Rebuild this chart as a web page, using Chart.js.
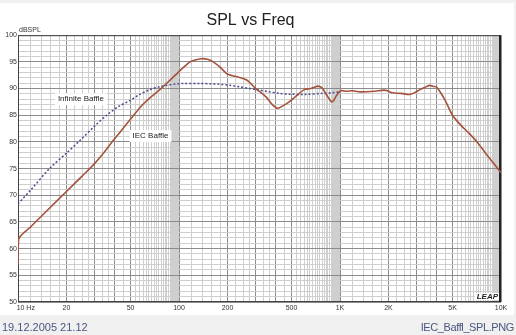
<!DOCTYPE html>
<html>
<head>
<meta charset="utf-8">
<script src="https://cdn.jsdelivr.net/npm/chart.js@4.4.1/dist/chart.umd.min.js"></script>
<style>
  html, body { margin: 0; padding: 0; }
  body { width: 516px; height: 335px; background: #f0f0f0; position: relative; overflow: hidden; }
  #panel { position: absolute; left: 0; top: 3px; width: 514px; height: 312px; background: #fff; }
  #chart { position: absolute; left: 0; top: 0; }
  .foot { position: absolute; top: 321px; line-height: 12px; font: 11px "Liberation Sans", Arial, sans-serif; color: #4a5680; }
</style>
</head>
<body>
<div id="panel"></div>
<canvas id="chart" width="516" height="335"></canvas>
<div class="foot" style="left:2px">19.12.2005 21.12</div>
<div class="foot" style="right:2px; letter-spacing:-0.4px">IEC_Baffl_SPL.PNG</div>
<script>
// IEC baffle response (solid)
const freqIEC = [10, 10.1, 12, 15, 20, 25, 29.4, 35, 39.1, 44, 52, 60, 68, 76, 84, 97, 107, 117, 128, 138,
  150, 163, 180, 198, 215, 229, 263, 300, 347, 380, 411, 445, 483, 540, 600, 660, 700, 727, 760, 780,
  810, 840, 870, 890, 915, 940, 975, 1010, 1100, 1200, 1300, 1450, 1650, 1880, 2000, 2110, 2400, 2700,
  2900, 3100, 3350, 3600, 3800, 3970, 4200, 4500, 5000, 5600, 6340, 7100, 8040, 9000, 10000];
const splIEC = [57.0, 61.8, 64.1, 67.0, 70.7, 73.6, 75.7, 78.4, 80.3, 82.2, 84.9, 87.1, 88.6, 89.8, 91.0, 92.8, 94.0, 95.0, 95.4, 95.6,
  95.5, 95.0, 94.0, 92.8, 92.4, 92.2, 91.6, 90.0, 88.45, 87.0, 86.3, 86.8, 87.5, 88.7, 89.8, 90.0, 90.3, 90.45, 90.3, 90.0,
  89.2, 88.45, 87.8, 87.5, 87.8, 88.45, 89.1, 89.6, 89.5, 89.6, 89.4, 89.4, 89.5, 89.7, 89.5, 89.2, 89.1, 88.9,
  89.2, 89.7, 90.2, 90.6, 90.4, 90.3, 89.3, 87.8, 85.0, 83.2, 81.6, 80.0, 77.85, 76.0, 74.2];

// Infinite baffle response (dotted)
const freqInf = [10, 12, 15.8, 20, 24.3, 30, 35.5, 42, 49.8, 57, 66, 75, 83.8, 95, 106, 135, 156, 180, 207,
  240, 275, 318, 360, 420, 483, 600, 780, 900, 1000];
const splInf = [68.4, 71.0, 75.1, 77.9, 80.3, 83.0, 85.0, 86.6, 87.8, 88.9, 89.8, 90.3, 90.6, 90.85, 90.95, 90.95, 90.9, 90.8, 90.6,
  90.3, 90.0, 89.7, 89.4, 89.1, 88.95, 88.9, 89.1, 89.2, 89.4];

// axis labels
const freqTicks = [10, 20, 50, 100, 200, 500, 1000, 2000, 5000, 10000];
const freqTickLabels = ['\u2007\u2007\u2007\u200710 Hz', '20', '50', '100', '200', '500', '1K', '2K', '5K', '10K'];
const splMin = 50, splMax = 100;

// minor grid subdivisions between 1-2, 2-3, ... 9-10 of each decade
const minorDivs = [5, 4, 3, 2, 3, 4, 4, 5, 8];

const gridTicks = [];
[10, 100, 1000].forEach(dec => {
    for (let m = 1; m < 10; m++) {
        gridTicks.push({ value: dec * m, dark: m <= 5 });
        const n = minorDivs[m - 1];
        for (let k = 1; k < n; k++) {
            gridTicks.push({ value: dec * (m + k / n), dark: false });
        }
    }
});
gridTicks.push({ value: 10000, dark: true });

const notes = [
    { text: 'Infinite Baffle', f: 24.6, db: 88.0 },
    { text: 'IEC Baffle', f: 66.5, db: 81.1 }
];

const FONT = '"Liberation Sans", Arial, sans-serif';
const GRID_DARK = '#8c8c8c';
const GRID_LIGHT = '#cfcfcf';

const extrasPlugin = {
    id: 'extras',
    beforeDatasetsDraw(chart) {
        const { ctx, chartArea: a } = chart;
        ctx.save();
        ctx.strokeStyle = '#444';
        ctx.lineWidth = 1;
        ctx.strokeRect(a.left + 0.5, a.top + 0.5, a.right - a.left - 1, a.bottom - a.top - 1);
        ctx.strokeStyle = '#222';
        ctx.lineWidth = 2;
        ctx.beginPath();
        ctx.moveTo(a.right - 1, a.top);
        ctx.lineTo(a.right - 1, a.bottom);
        ctx.stroke();
        ctx.restore();
    },
    afterDraw(chart) {
        const { ctx, chartArea: a, scales } = chart;
        ctx.save();
        ctx.font = '8px ' + FONT;
        ctx.textAlign = 'center';
        ctx.textBaseline = 'middle';
        notes.forEach(n => {
            const x = scales.x.getPixelForValue(n.f);
            const y = scales.y.getPixelForValue(n.db);
            const w = ctx.measureText(n.text).width;
            ctx.fillStyle = '#fff';
            ctx.fillRect(x - w / 2 - 3, y - 6, w + 6, 12);
            ctx.fillStyle = '#222';
            ctx.fillText(n.text, x, y);
        });

        // unit label
        ctx.font = '7px ' + FONT;
        ctx.textAlign = 'left';
        ctx.textBaseline = 'alphabetic';
        ctx.fillStyle = '#333';
        ctx.fillText('dBSPL', a.left + 1, a.top - 3);

        // logo
        ctx.font = 'italic bold 8px ' + FONT;
        ctx.textAlign = 'right';
        const lw = ctx.measureText('LEAP').width;
        ctx.fillStyle = '#fff';
        ctx.fillRect(a.right - lw - 5, a.bottom - 9, lw + 3, 7);
        ctx.fillStyle = '#222';
        ctx.fillText('LEAP', a.right - 3, a.bottom - 3);
        ctx.restore();
    }
};

new Chart(document.getElementById('chart'), {
    type: 'scatter',
    data: {
        datasets: [{
            label: 'IEC Baffle',
            data: freqIEC.map((f, i) => ({ x: f, y: splIEC[i] })),
            showLine: true,
            borderColor: '#a4523c',
            borderWidth: 1.6,
            pointRadius: 0,
            tension: 0.3
        }, {
            label: 'Infinite Baffle',
            data: freqInf.map((f, i) => ({ x: f, y: splInf[i] })),
            showLine: true,
            borderColor: '#4b4b8f',
            borderWidth: 1.5,
            borderDash: [2, 2],
            pointRadius: 0,
            tension: 0.3
        }]
    },
    options: {
        responsive: false,
        animation: false,
        devicePixelRatio: 1,
        layout: { padding: { left: 0, right: 15, top: 0, bottom: 0 } },
        plugins: {
            legend: { display: false },
            tooltip: { enabled: false },
            title: {
                display: true,
                text: 'SPL vs Freq',
                color: '#222',
                font: { family: FONT, size: 16, weight: 'normal' },
                padding: { top: 11, bottom: 5 }
            }
        },
        scales: {
            x: {
                type: 'logarithmic',
                min: 10,
                max: 10000,
                afterBuildTicks: scale => { scale.ticks = gridTicks.map(t => ({ value: t.value, dark: t.dark })); },
                afterFit: scale => { scale.height = 33; scale.paddingLeft = 0; scale.paddingRight = 0; },
                border: { display: false },
                grid: {
                    drawTicks: false,
                    lineWidth: 1,
                    color: ctx => (ctx.tick && ctx.tick.dark ? GRID_DARK : GRID_LIGHT)
                },
                ticks: {
                    autoSkip: false,
                    maxRotation: 0,
                    padding: 2,
                    color: '#333',
                    font: { family: FONT, size: 7 },
                    callback: v => {
                        const i = freqTicks.indexOf(v);
                        return i >= 0 ? freqTickLabels[i] : '';
                    }
                }
            },
            y: {
                min: splMin,
                max: splMax,
                afterFit: scale => { scale.width = 18; scale.paddingTop = 0; scale.paddingBottom = 0; },
                border: { display: false },
                grid: {
                    drawTicks: false,
                    lineWidth: 1,
                    color: ctx => (ctx.tick && ctx.tick.value % 5 === 0 ? GRID_DARK : GRID_LIGHT)
                },
                ticks: {
                    stepSize: 1,
                    autoSkip: false,
                    padding: 1,
                    color: '#333',
                    font: { family: FONT, size: 7 },
                    callback: v => (v % 5 === 0 ? String(v) : '')
                }
            }
        }
    },
    plugins: [extrasPlugin]
});
</script>
</body>
</html>
